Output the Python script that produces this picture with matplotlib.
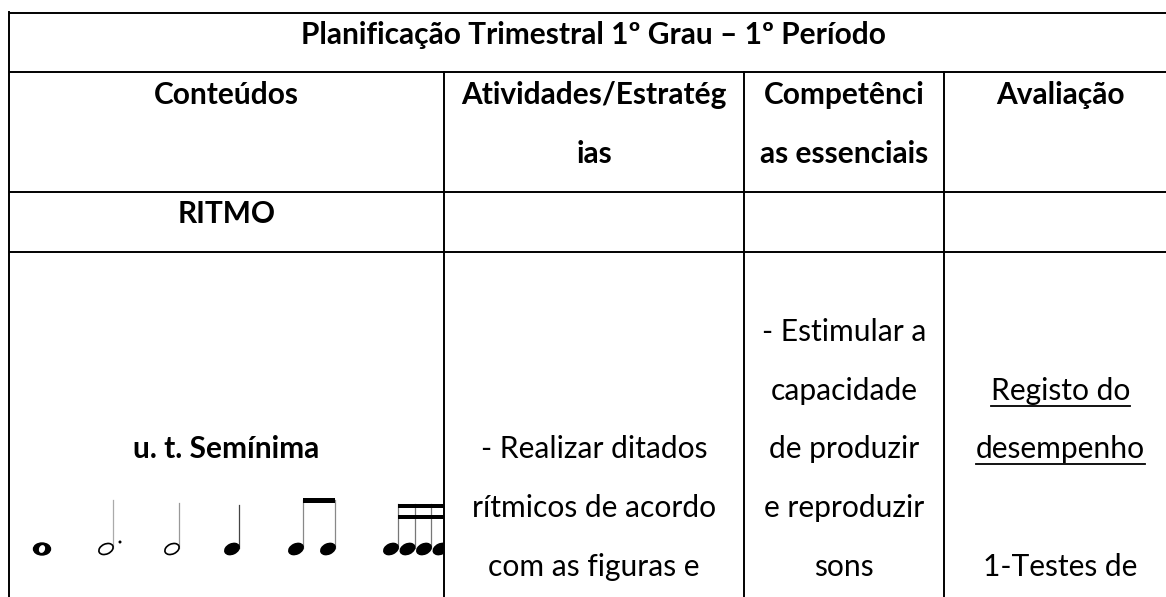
import matplotlib
matplotlib.use("Agg")
import matplotlib.pyplot as plt
from matplotlib.patches import Ellipse, Rectangle

# ---------------- data (table content) ----------------
title = "Planificação Trimestral 1º Grau – 1º Período"
header_lines = [["Conteúdos"],
                ["Atividades/Estratég", "ias"],
                ["Competênci", "as essenciais"],
                ["Avaliação"]]
section_row = ["RITMO", "", "", ""]
# body cells: (line index, text, underlined)
col1_body = [(2, "u. t. Semínima", False)]
col2_body = [(2, "- Realizar ditados", False),
             (3, "rítmicos de acordo", False),
             (4, "com as figuras e", False)]
col3_body = [(0, "- Estimular a", False),
             (1, "capacidade", False),
             (2, "de produzir", False),
             (3, "e reproduzir", False),
             (4, "sons", False)]
col4_body = [(1, "Registo do", True),
             (2, "desempenho", True),
             (4, "1-Testes de", False)]
note_figures = ["semibreve", "minima_pontuada", "minima", "seminima",
                "colcheias", "semicolcheias"]

# ---------------- layout ----------------
W, H = 1166, 597
fig = plt.figure(figsize=(W / 100, H / 100), dpi=100)
ax = fig.add_axes([0, 0, 1, 1])
ax.set_xlim(0, W)
ax.set_ylim(H, 0)
ax.axis("off")
renderer = fig.canvas.get_renderer()

FONT = "Lato"


def text_width(s, fs, weight):
    t = ax.text(0, 0, s, fontsize=fs, fontweight=weight, family=FONT)
    w = t.get_window_extent(renderer=renderer).width
    t.remove()
    return w


# font sizes fitted to measured text widths of the reference
FS_B = 20 * 583 / text_width(title, 20, "bold")
FS_R = 20 * 170 / text_width("desempenho", 20, "normal")

col_x = [9, 444, 744, 944, 1177]
row_y = [13, 72, 192, 252]
LW = 1.4

for y in row_y:
    ax.plot([col_x[0], W + 5], [y, y], color="black", lw=LW, solid_capstyle="butt")
ax.plot([col_x[0], col_x[0]], [row_y[0] - 0.7, H + 5], color="black", lw=LW)
for x in col_x[1:4]:
    ax.plot([x, x], [row_y[1], H + 5], color="black", lw=LW)

centers = [(col_x[i] + col_x[i + 1]) / 2 for i in range(4)]

ax.text((col_x[0] + col_x[-1]) / 2, 44, title, ha="center", va="baseline",
        fontsize=FS_B, fontweight="bold", family=FONT)

head_base = [104, 163]
for i, lines in enumerate(header_lines):
    for j, t in enumerate(lines):
        ax.text(centers[i], head_base[j], t, ha="center", va="baseline",
                fontsize=FS_B, fontweight="bold", family=FONT)

for i, t in enumerate(section_row):
    if t:
        ax.text(centers[i], 223, t, ha="center", va="baseline", fontsize=FS_B,
                fontweight="bold", family=FONT)

body_base0, body_step = 341, 58.7
for ci, (cells, bold) in enumerate([(col1_body, True), (col2_body, False),
                                    (col3_body, False), (col4_body, False)]):
    for idx, t, ul in cells:
        yb = body_base0 + idx * body_step
        txt = ax.text(centers[ci], yb, t, ha="center", va="baseline",
                      fontsize=FS_B if bold else FS_R,
                      fontweight="bold" if bold else "normal", family=FONT)
        if ul:
            bb = txt.get_window_extent(renderer=renderer)
            ax.plot([bb.x0, bb.x1], [yb + 6, yb + 6], color="black", lw=1.3)

# ---------------- musical figures ----------------
clip = Rectangle((col_x[0], row_y[3]), col_x[1] - col_x[0], H, transform=ax.transData)
head_y = 549
note_x = [42, 106, 172, 232, 296, 391]
HW, HH = 15, 10


def head(x, filled=True):
    e = Ellipse((x, head_y), HW, HH, angle=-25,
                facecolor="black" if filled else "white",
                edgecolor="black", lw=1.2, zorder=3)
    ax.add_patch(e)
    e.set_clip_path(clip)


def stem(x, top, color="black", lw=0.9):
    ln, = ax.plot([x + 7, x + 7], [head_y - 1, top], color=color, lw=lw, zorder=2)
    ln.set_clip_path(clip)


for kind, x in zip(note_figures, note_x):
    if kind == "semibreve":
        ax.add_patch(Ellipse((x, head_y), 17, 12, facecolor="black", edgecolor="black", zorder=3))
        ax.add_patch(Ellipse((x, head_y), 6, 8, angle=20, facecolor="white", edgecolor="none", zorder=4))
    elif kind == "minima_pontuada":
        head(x, filled=False)
        stem(x, 500, color="#aaaaaa")
        ax.add_patch(Ellipse((x + 14, head_y - 7), 3, 3, facecolor="black", zorder=3))
    elif kind == "minima":
        head(x, filled=False)
        stem(x, 503, color="#999999")
    elif kind == "seminima":
        head(x)
        stem(x, 505, color="#444444")
    elif kind == "colcheias":
        for k in range(2):
            head(x + k * 32)
            stem(x + k * 32, 500, color="#888888")
        ax.add_patch(Rectangle((x + 7, 498), 32, 5, facecolor="black", zorder=3))
    elif kind == "semicolcheias":
        for k in range(4):
            xx = x + k * 16.5
            head(xx)
            stem(xx, 504, color="#777777")
        for by in (504, 515):
            r = Rectangle((x + 7, by), 70, 4, facecolor="black", zorder=3)
            ax.add_patch(r)
            r.set_clip_path(clip)

fig.savefig("out.png", dpi=100, facecolor="white")
